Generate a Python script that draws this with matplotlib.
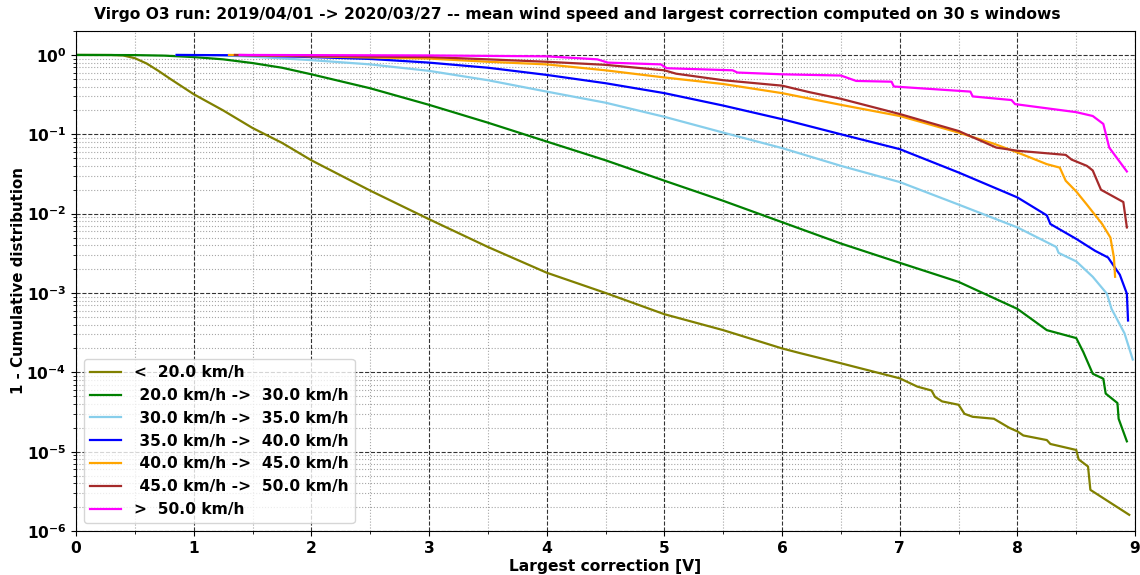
import matplotlib
matplotlib.use("Agg")
import matplotlib.pyplot as plt
from matplotlib.ticker import MultipleLocator, LogLocator

plt.rcParams["font.weight"] = "bold"
plt.rcParams["axes.labelweight"] = "bold"
plt.rcParams["axes.titleweight"] = "bold"

# valeurs (x = correction [V], y = 1 - CDF)
x_lt20 = [0, 0.3, 0.4, 0.5, 0.6, 0.7, 0.8, 0.9, 1.0, 1.1, 1.25, 1.5, 1.75, 2.0, 2.5, 3.0, 3.5,
          4.0, 4.5, 5.0, 5.5, 6.0, 6.15, 6.5, 7.0, 7.15, 7.27, 7.3, 7.36, 7.5, 7.55, 7.62, 7.8,
          7.93, 8.0, 8.05, 8.25, 8.28, 8.5, 8.52, 8.6, 8.62, 8.95]
y_lt20 = [1.0, 0.998, 0.985, 0.91, 0.78, 0.63, 0.5, 0.4, 0.32, 0.265, 0.2, 0.12, 0.078, 0.047,
          0.0195, 0.0085, 0.0038, 0.0018, 0.001, 0.00054, 0.00034, 0.0002, 0.000175, 0.00013,
          8.4e-5, 6.6e-5, 5.9e-5, 4.9e-5, 4.3e-5, 3.9e-5, 3.0e-5, 2.75e-5, 2.6e-5, 2.0e-5,
          1.8e-5, 1.6e-5, 1.4e-5, 1.25e-5, 1.05e-5, 8e-6, 6.5e-6, 3.3e-6, 1.6e-6]

x_20_30 = [0, 0.5, 0.75, 1.0, 1.25, 1.5, 1.75, 2.0, 2.5, 3.0, 3.5, 4.0, 4.5, 5.0, 5.5, 6.0, 6.5,
           7.0, 7.5, 8.0, 8.25, 8.5, 8.56, 8.64, 8.73, 8.75, 8.85, 8.86, 8.93]
y_20_30 = [1.0, 0.995, 0.98, 0.94, 0.88, 0.79, 0.69, 0.57, 0.38, 0.235, 0.14, 0.081, 0.047,
           0.026, 0.0145, 0.0078, 0.0042, 0.0024, 0.00138, 0.00063, 0.00034, 0.00027, 0.00018,
           9.6e-5, 8.3e-5, 5.4e-5, 4.1e-5, 2.6e-5, 1.35e-5]

x_30_35 = [0.855, 1.2, 1.5, 2.0, 2.5, 3.0, 3.5, 4.0, 4.5, 5.0, 5.5, 6.0, 6.5, 7.0, 7.5, 8.0,
           8.33, 8.35, 8.5, 8.64, 8.76, 8.8, 8.91, 8.98]
y_30_35 = [1.0, 0.99, 0.95, 0.86, 0.76, 0.63, 0.48, 0.345, 0.25, 0.166, 0.105, 0.067, 0.04,
           0.025, 0.013, 0.0067, 0.0038, 0.0032, 0.0025, 0.0016, 0.00098, 0.00063, 0.00031,
           0.000145]

x_35_40 = [0.855, 1.4, 2.0, 2.5, 3.0, 3.5, 4.0, 4.5, 5.0, 5.5, 6.0, 6.5, 7.0, 7.5, 8.0, 8.25,
           8.28, 8.5, 8.66, 8.77, 8.87, 8.93, 8.94]
y_35_40 = [1.0, 0.99, 0.94, 0.89, 0.8, 0.69, 0.56, 0.44, 0.33, 0.23, 0.155, 0.10, 0.065, 0.033,
           0.016, 0.0095, 0.0074, 0.0048, 0.0034, 0.0028, 0.0017, 0.00098, 0.00045]

x_40_45 = [1.3, 2.0, 2.5, 3.0, 3.5, 4.0, 4.5, 5.0, 5.5, 6.0, 6.5, 7.0, 7.5, 7.8, 8.0, 8.25,
           8.36, 8.41, 8.5, 8.59, 8.72, 8.79, 8.82, 8.83]
y_40_45 = [1.0, 0.96, 0.93, 0.9, 0.82, 0.76, 0.64, 0.52, 0.43, 0.33, 0.235, 0.17, 0.105, 0.076,
           0.059, 0.042, 0.038, 0.026, 0.019, 0.013, 0.0074, 0.005, 0.0028, 0.0016]

x_45_50 = [1.35, 2.0, 3.0, 3.5, 4.0, 4.5, 5.0, 5.1, 5.5, 6.0, 6.23, 6.5, 7.0, 7.5, 7.82, 8.0,
           8.41, 8.46, 8.59, 8.64, 8.71, 8.9, 8.93]
y_45_50 = [1.0, 0.97, 0.94, 0.88, 0.82, 0.75, 0.64, 0.58, 0.48, 0.41, 0.34, 0.28, 0.18, 0.11,
           0.068, 0.062, 0.055, 0.048, 0.04, 0.035, 0.020, 0.014, 0.0067]

x_gt50 = [1.39, 3.0, 4.0, 4.43, 4.52, 4.97, 5.02, 5.58, 5.62, 6.0, 6.5, 6.63, 6.93, 6.95, 7.6,
          7.62, 7.95, 7.98, 8.5, 8.64, 8.73, 8.78, 8.93]
y_gt50 = [1.0, 0.985, 0.96, 0.88, 0.8, 0.76, 0.68, 0.64, 0.6, 0.57, 0.55, 0.47, 0.46, 0.40,
          0.345, 0.30, 0.27, 0.24, 0.19, 0.17, 0.135, 0.068, 0.034]

labels = ["<  20.0 km/h",
          " 20.0 km/h ->  30.0 km/h",
          " 30.0 km/h ->  35.0 km/h",
          " 35.0 km/h ->  40.0 km/h",
          " 40.0 km/h ->  45.0 km/h",
          " 45.0 km/h ->  50.0 km/h",
          ">  50.0 km/h"]
couleurs = ["olive", "green", "skyblue", "blue", "orange", "brown", "magenta"]

series = [(x_lt20, y_lt20), (x_20_30, y_20_30), (x_30_35, y_30_35), (x_35_40, y_35_40),
          (x_40_45, y_40_45), (x_45_50, y_45_50), (x_gt50, y_gt50)]

fig = plt.figure(figsize=(11.4, 5.75), dpi=100)
ax = fig.add_axes([0.0667, 0.0765, 0.929, 0.8695])

for (xs, ys), lab, c in zip(series, labels, couleurs):
    ax.semilogy(xs, ys, color=c, lw=1.6, label=lab)

ax.set_xlim(0, 9)
ax.set_ylim(1e-6, 2)
ax.xaxis.set_major_locator(MultipleLocator(1))
ax.xaxis.set_minor_locator(MultipleLocator(0.5))
ax.yaxis.set_major_locator(LogLocator(base=10, numticks=10))
ax.yaxis.set_minor_locator(LogLocator(base=10, subs=range(2, 10), numticks=20))
ax.grid(True, which="major", color="k", ls="--", lw=0.8, alpha=0.8)
ax.grid(True, which="minor", color="grey", ls=":", lw=0.8, alpha=0.7)
ax.tick_params(labelsize=11.2)

ax.set_xlabel("Largest correction [V]", fontsize=11.2, labelpad=2)
ax.set_ylabel("1 - Cumulative distribution", fontsize=10.8, labelpad=0)
fig.text(0.506, 0.974,
         "Virgo O3 run: 2019/04/01 -> 2020/03/27 -- mean wind speed and largest correction computed on 30 s windows",
         fontsize=11.2, weight="bold", ha="center", va="center")
ax.legend(loc="lower left", prop={"weight": "bold", "size": 11.2})

fig.savefig("out.png", dpi=100)
